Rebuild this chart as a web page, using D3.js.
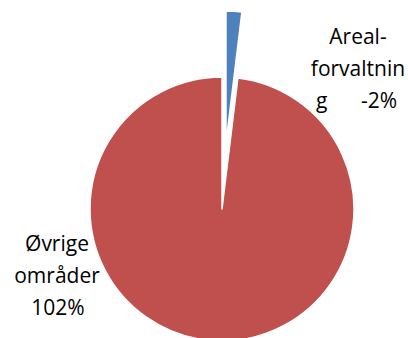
<!DOCTYPE html>
<html>
<head>
<meta charset="utf-8">
<script src="https://cdn.jsdelivr.net/npm/d3@7/dist/d3.min.js"></script>
<style>
  html, body { margin: 0; padding: 0; background: #fff; }
  svg { display: block; }
  text { font-family: "Open Sans", sans-serif; font-size: 21px; fill: #000; }
</style>
</head>
<body>
<svg id="chart" width="408" height="338"></svg>
<script>
// Share of change by area (percent)
const categories = ["Areal-forvaltning", "Øvrige områder"];
const values = [-2, 102];
const colors = ["#4F81BD", "#C0504D"];
const exploded = [true, false];

const W = 408, H = 338;
const cx = 222, cy = 209, radius = 132, explodeBy = 66;

const svg = d3.select("#chart");
const g = svg.append("g").attr("transform", `translate(${cx},${cy})`);

// Slice sizes use the magnitude of each value; order kept as given, clockwise from 12 o'clock
const pie = d3.pie().value(d => Math.abs(d.value)).sort(null);
const arc = d3.arc().innerRadius(0).outerRadius(radius);

const data = categories.map((c, i) => ({ category: c, value: values[i], color: colors[i], exploded: exploded[i] }));
const arcs = pie(data);

g.selectAll("path.slice")
  .data(arcs)
  .join("path")
  .attr("class", "slice")
  .attr("d", arc)
  .attr("fill", d => d.data.color)
  .attr("stroke", "#fff")
  .attr("stroke-width", 1.5)
  .attr("stroke-linejoin", "round")
  .attr("transform", d => {
    if (!d.data.exploded) return null;
    const mid = (d.startAngle + d.endAngle) / 2;
    return `translate(${explodeBy * Math.sin(mid)},${-explodeBy * Math.cos(mid)})`;
  });

const fmt = v => `${v}%`;

// Data labels
const labelR = svg.append("g");
labelR.append("text").attr("x", 358).attr("y", 44).attr("text-anchor", "middle").text("Areal-");
labelR.append("text").attr("x", 358).attr("y", 76).attr("text-anchor", "middle").text("forvaltnin");
labelR.append("text").attr("x", 316).attr("y", 108).attr("text-anchor", "start").text("g");
labelR.append("text").attr("x", 397).attr("y", 108).attr("text-anchor", "end").text(fmt(values[0]));

const labelL = svg.append("g");
labelL.append("text").attr("x", 57).attr("y", 251).attr("text-anchor", "middle").text("Øvrige");
labelL.append("text").attr("x", 57).attr("y", 283).attr("text-anchor", "middle").text("områder");
labelL.append("text").attr("x", 58).attr("y", 315).attr("text-anchor", "middle").text(fmt(values[1]));
</script>
</body>
</html>
